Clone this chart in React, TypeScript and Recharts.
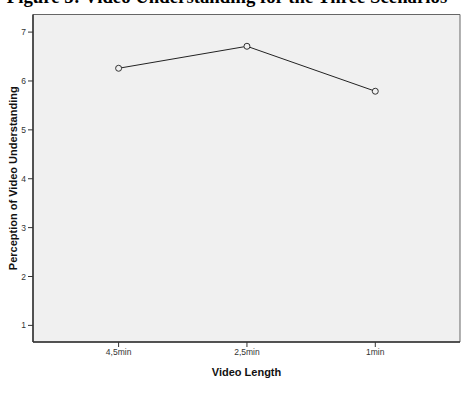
import React from 'react';
import { LineChart, Line, XAxis, YAxis, ReferenceArea, Label } from 'recharts';

const categories = ['4,5min', '2,5min', '1min'];
const understanding = [6.26, 6.71, 5.79];
const yTicks = [1, 2, 3, 4, 5, 6, 7];

const data = categories.map((c, i) => ({ idx: i, name: c, value: understanding[i] }));

const W = 466;
const H = 393;

export default function App() {
  return (
    <div style={{ position: 'absolute', left: 0, top: 0, width: W, height: H, overflow: 'hidden', background: '#fff' }}>
      <div
        style={{
          position: 'absolute',
          left: -6,
          width: W,
          top: -14,
          textAlign: 'center',
          fontFamily: '"Liberation Serif", "Times New Roman", serif',
          fontWeight: 'bold',
          fontSize: 18.8,
          lineHeight: '22px',
          color: '#000',
          whiteSpace: 'nowrap',
        }}
      >
        Figure 5: Video Understanding for the Three Scenarios
      </div>
      <LineChart width={W} height={H} data={data} margin={{ top: 14.5, right: 6, bottom: 0, left: 0 }}>
        <ReferenceArea x1={-0.667} x2={2.66} y1={0.66} y2={7.36} fill="#f0f0f0" fillOpacity={1} stroke="#666" strokeWidth={1} ifOverflow="extendDomain" />
        <XAxis
          type="number"
          dataKey="idx"
          domain={[-0.667, 2.66]}
          ticks={[0, 1, 2]}
          tickFormatter={(v: number) => categories[v]}
          height={51}
          axisLine={{ stroke: '#333', strokeWidth: 1.5 }}
          tickLine={{ stroke: '#333' }}
          tickSize={5}
          tick={{ fontSize: 8.5, fill: '#333', fontFamily: 'Arial, "Liberation Sans", sans-serif' }}
          allowDataOverflow
        >
          <Label value="Video Length" position="insideBottom" offset={17} style={{ fontSize: 11, fontWeight: 'bold', fill: '#111', fontFamily: 'Arial, "Liberation Sans", sans-serif' }} />
        </XAxis>
        <YAxis
          type="number"
          domain={[0.66, 7.36]}
          ticks={yTicks}
          width={33}
          axisLine={{ stroke: '#333', strokeWidth: 1.5 }}
          tickLine={{ stroke: '#333' }}
          tickSize={5}
          tick={{ fontSize: 8.5, fill: '#333', fontFamily: 'Arial, "Liberation Sans", sans-serif' }}
          allowDataOverflow
        >
          <Label value="Perception of Video Understanding" angle={-90} position="insideLeft" offset={13} style={{ textAnchor: 'middle', fontSize: 11, fontWeight: 'bold', fill: '#111', fontFamily: 'Arial, "Liberation Sans", sans-serif' }} />
        </YAxis>
        <Line
          type="linear"
          dataKey="value"
          stroke="#222"
          strokeWidth={1}
          dot={{ r: 3, stroke: '#333', strokeWidth: 1, fill: '#f0f0f0' }}
          isAnimationActive={false}
        />
      </LineChart>
    </div>
  );
}
